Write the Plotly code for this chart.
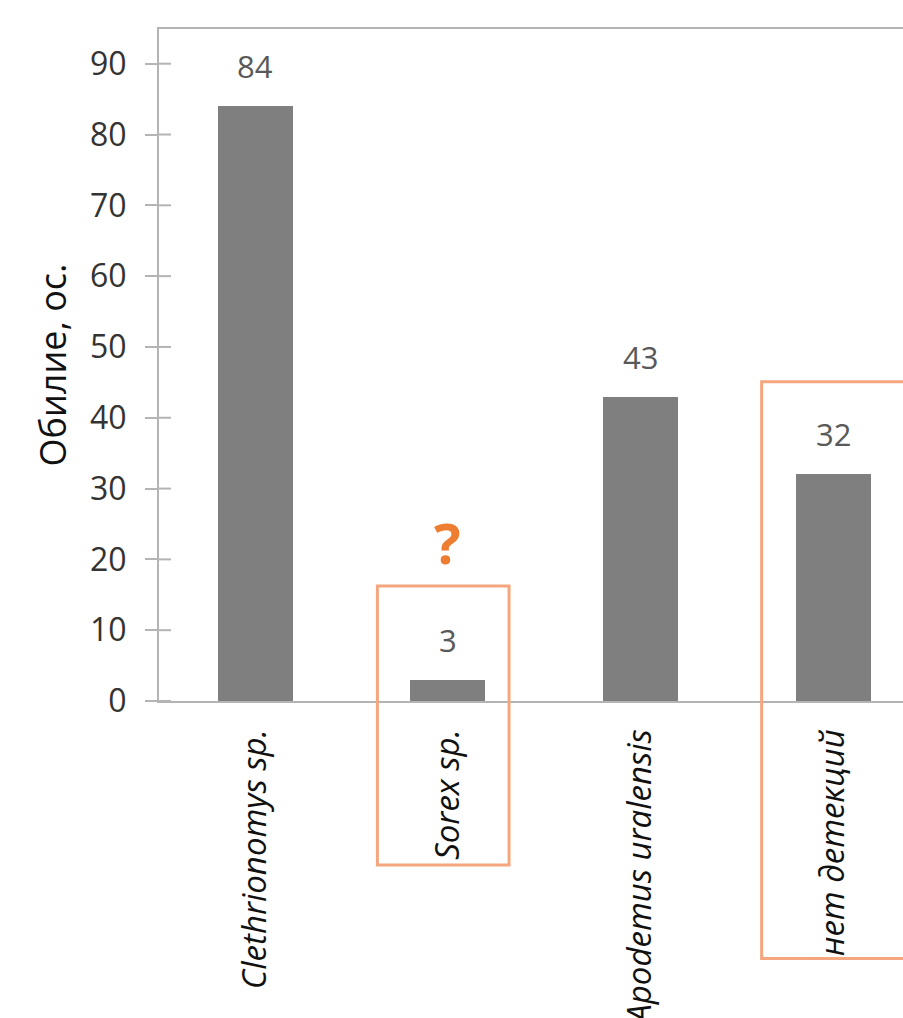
import plotly.graph_objects as go

# Abundance by detected species
categories = ["Clethrionomys sp.", "Sorex sp.", "Apodemus uralensis", "нет детекций"]
values = [84, 3, 43, 32]
y_ticks = [0, 10, 20, 30, 40, 50, 60, 70, 80, 90]

FONT = "Open Sans"
AXIS_GREY = "#B4B4B4"
BAR_GREY = "#7F7F7F"
HILITE = "#F4A67E"

x_idx = list(range(len(categories)))
y_range = [0, 94.9]
x_range = [-0.5, 3.363]
PLOT_W = 903 - 159
TICK_LEN = 12

fig = go.Figure()
fig.add_trace(go.Bar(
    x=x_idx, y=values, width=0.39,
    marker=dict(color=BAR_GREY, line=dict(width=0)),
    showlegend=False, hoverinfo="skip",
))

# inner half of the crossing tick marks on the value axis
for t in y_ticks:
    fig.add_shape(type="line", xref="x domain", yref="y",
                  x0=0, x1=TICK_LEN / PLOT_W, y0=t, y1=t,
                  line=dict(color=AXIS_GREY, width=2), layer="above")

# value labels above bars
for i, v in zip(x_idx, values):
    fig.add_annotation(
        x=i, y=v, xref="x", yref="y", text=str(v), showarrow=False,
        yanchor="middle", yshift=40,
        font=dict(family=FONT, size=31, color="#595959"),
    )

# question mark over the Sorex box
fig.add_annotation(
    x=categories.index("Sorex sp."), y=0.236, xref="x", yref="paper", text="<b>?</b>",
    showarrow=False, xanchor="center", yanchor="middle",
    font=dict(family=FONT, size=56, color="#ED7D31"),
)

# highlight boxes
fig.add_shape(type="rect", xref="paper", yref="paper",
              x0=0.2935, x1=0.4705, y0=0.171, y1=-0.2440,
              line=dict(color=HILITE, width=3), fillcolor="rgba(0,0,0,0)", layer="above")
fig.add_shape(type="rect", xref="paper", yref="paper",
              x0=0.810, x1=1.05, y0=0.475, y1=-0.383,
              line=dict(color=HILITE, width=3), fillcolor="rgba(0,0,0,0)", layer="above")

fig.update_layout(
    width=903, height=1018,
    margin=dict(l=159, r=0, t=29, b=317, pad=0),
    paper_bgcolor="white", plot_bgcolor="white",
    bargap=0,
    xaxis=dict(
        range=x_range, tickmode="array", tickvals=x_idx, ticktext=categories,
        tickangle=-90, ticks="", showgrid=False, zeroline=False,
        showline=True, linecolor=AXIS_GREY, linewidth=2, mirror=True,
        tickfont=dict(family=FONT, size=33, color="#111111", style="italic"),
        ticklabelstandoff=13, automargin=False,
    ),
    yaxis=dict(
        range=y_range, tickmode="array", tickvals=y_ticks,
        ticks="outside", ticklen=TICK_LEN, tickwidth=2, tickcolor=AXIS_GREY,
        showgrid=False, zeroline=False,
        showline=True, linecolor=AXIS_GREY, linewidth=2,
        tickfont=dict(family=FONT, size=32, color="#333333"),
        ticklabelstandoff=12, automargin=False,
        title=dict(text="Обилие, ос.", font=dict(family=FONT, size=36, color="#111111"), standoff=12),
    ),
)

fig.write_html("out.html")
